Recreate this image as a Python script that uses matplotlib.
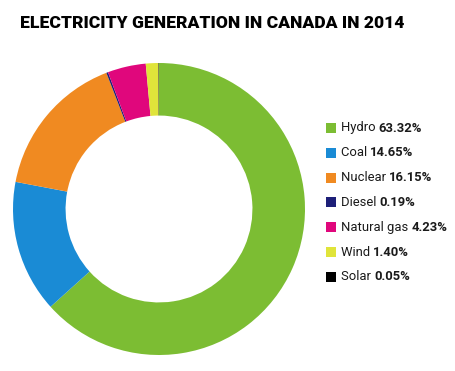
import matplotlib

matplotlib.use("Agg")
import matplotlib.pyplot as plt
from matplotlib.patches import Rectangle

sources = ["Hydro", "Coal", "Nuclear", "Diesel", "Natural gas", "Wind", "Solar"]
shares = [63.32, 14.65, 16.15, 0.19, 4.23, 1.40, 0.05]
colors = ["#7cbd33", "#1a8bd5", "#f08a21", "#1d1f78", "#e0077c", "#e0e43a", "#000000"]

W, H = 456, 371
fig = plt.figure(figsize=(W / 100, H / 100), dpi=100)
fig.patch.set_facecolor("white")

# donut
ax = fig.add_axes([13 / W, 16 / H, 292 / W, 292 / H])
ax.pie(
    shares,
    colors=colors,
    startangle=90,
    counterclock=False,
    radius=1.0,
    wedgeprops=dict(width=0.36, edgecolor="none"),
)
ax.set_xlim(-1, 1)
ax.set_ylim(-1, 1)
ax.axis("off")

fig.text(20 / W, 1 - 28 / H, "ELECTRICITY GENERATION IN CANADA IN 2014",
         fontsize=12.6, fontweight="heavy", family="Roboto", va="baseline", ha="left")

# legend: name in regular weight, share in bold
renderer = fig.canvas.get_renderer()
y0 = 128
for i, (name, val, c) in enumerate(zip(sources, shares, colors)):
    yc = y0 + i * 24.8
    fig.patches.append(Rectangle((326 / W, 1 - (yc + 5) / H), 10 / W, 10 / H,
                                 transform=fig.transFigure, facecolor=c, edgecolor="none"))
    t = fig.text(341 / W, 1 - yc / H, name + " ", fontsize=9.4, family="Roboto",
                 va="center", ha="left", color="#1a1a1a")
    bb = t.get_window_extent(renderer)
    fig.text(bb.x1 / W, 1 - yc / H, f"{val:.2f}%", fontsize=9.4, family="Roboto",
             fontweight="bold", va="center", ha="left", color="#1a1a1a")

fig.savefig("out.png", dpi=100)
